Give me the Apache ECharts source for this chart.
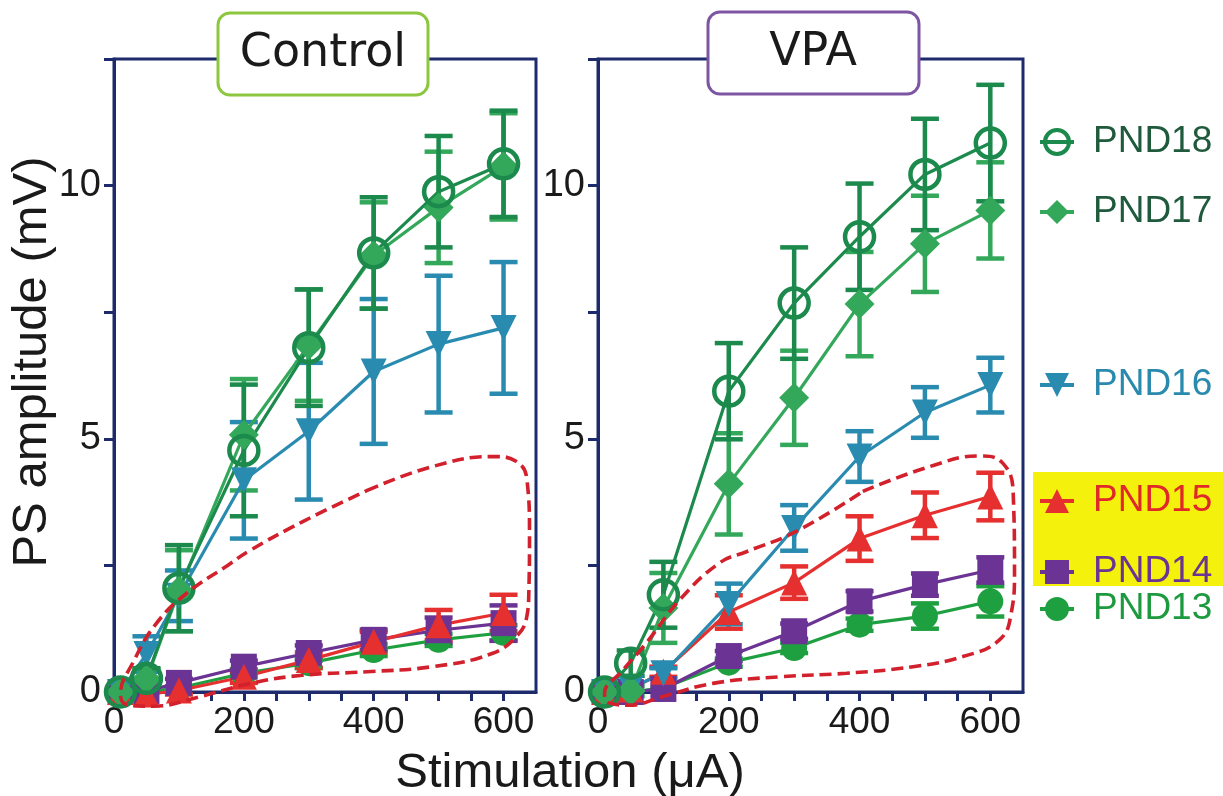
<!DOCTYPE html>
<html>
<head>
<meta charset="utf-8">
<script src="https://cdn.jsdelivr.net/npm/echarts@6/dist/echarts.min.js"></script>
<style>html,body{margin:0;padding:0;background:#fff}#c{width:1223px;height:796px}</style>
</head>
<body>
<div id="c"></div>
<script>
// ---------- data ----------
const stim = [10, 50, 100, 200, 300, 400, 500, 600];
const xTickLabels = [0, 200, 400, 600];
const yTickLabels = [0, 5, 10];
const seriesNames = ['PND13', 'PND14', 'PND15', 'PND16', 'PND17', 'PND18'];

// Control
const ctrlPND18 = [0, 0.27, 2.05, 4.77, 6.80, 8.67, 9.88, 10.43];
const ctrlPND18err = [0, 0.20, 0.85, 1.30, 1.15, 1.10, 1.10, 1.05];
const ctrlPND17 = [0, 0.25, 2.00, 5.08, 6.85, 8.62, 9.57, 10.38];
const ctrlPND17err = [0, 0.20, 0.80, 1.10, 1.10, 1.05, 1.10, 1.05];
const ctrlPND16 = [0, 0.75, 1.90, 4.18, 5.15, 6.33, 6.87, 7.19];
const ctrlPND16err = [0, 0.35, 0.50, 1.15, 1.35, 1.43, 1.35, 1.30];
const ctrlPND15 = [0, -0.05, 0.03, 0.30, 0.63, 0.99, 1.32, 1.56];
const ctrlPND15err = [0, 0.05, 0.08, 0.12, 0.15, 0.20, 0.30, 0.36];
const ctrlPND14 = [0, 0.02, 0.18, 0.50, 0.77, 1.03, 1.22, 1.36];
const ctrlPND14err = [0, 0.03, 0.08, 0.12, 0.15, 0.20, 0.25, 0.35];
const ctrlPND13 = [0, 0.00, 0.08, 0.37, 0.57, 0.83, 1.03, 1.17];
const ctrlPND13err = [0, 0.02, 0.05, 0.08, 0.10, 0.12, 0.12, 0.15];

// VPA
const vpaPND18 = [0, 0.57, 1.92, 5.94, 7.68, 8.99, 10.22, 10.84];
const vpaPND18err = [0, 0.25, 0.65, 0.95, 1.10, 1.05, 1.10, 1.15];
const vpaPND17 = [0, 0.02, 1.66, 4.11, 5.81, 7.66, 8.85, 9.51];
const vpaPND17err = [0, 0.10, 0.69, 1.00, 0.93, 1.03, 0.95, 0.95];
const vpaPND16 = [0, 0.08, 0.37, 1.74, 3.24, 4.65, 5.52, 6.06];
const vpaPND16err = [0, 0.05, 0.10, 0.40, 0.45, 0.50, 0.50, 0.54];
const vpaPND15 = [0, 0.05, 0.40, 1.58, 2.16, 3.03, 3.49, 3.86];
const vpaPND15err = [0, 0.05, 0.10, 0.33, 0.32, 0.44, 0.45, 0.47];
const vpaPND14 = [0, 0.00, 0.06, 0.71, 1.20, 1.79, 2.12, 2.41];
const vpaPND14err = [0, 0.02, 0.05, 0.10, 0.15, 0.20, 0.22, 0.25];
const vpaPND13 = [0, 0.00, 0.08, 0.58, 0.87, 1.33, 1.50, 1.79];
const vpaPND13err = [0, 0.02, 0.05, 0.08, 0.10, 0.12, 0.25, 0.30];

// dashed outline annotations (data coordinates)
const ctrlOutlineX = [390, 490, 585, 620, 636, 640, 639, 636, 620, 580, 490, 390, 290, 210, 130, 60, 20, 10, 30, 65, 112, 175, 210, 290, 390];
const ctrlOutlineY = [3.98, 4.45, 4.65, 4.55, 4.2, 3.1, 2.0, 1.5, 1.1, 0.75, 0.5, 0.4, 0.33, 0.17, -0.1, -0.28, -0.25, -0.05, 0.6, 1.35, 1.95, 2.5, 2.8, 3.36, 3.98];
const vpaOutlineX = [405, 507, 584, 619, 635, 637, 632, 614, 558, 482, 380, 278, 176, 99, 48, 18, 10, 38, 74, 125, 186, 227, 303, 405];
const vpaOutlineY = [3.96, 4.45, 4.66, 4.52, 3.93, 2.35, 1.56, 1.03, 0.7, 0.5, 0.37, 0.3, 0.17, -0.09, -0.26, -0.22, -0.03, 0.43, 0.97, 1.82, 2.55, 2.77, 3.17, 3.96];

// legend label vertical centres (px)
const legendCenters = {PND18: 137, PND17: 207, PND16: 380, PND15: 496, PND14: 567, PND13: 604};

// ---------- styles ----------
const NAVY = '#1d2a6b';
const style = {
  PND18: {color: '#1b8a4c', text: '#1f5a3c', symbol: 'circle', size: 29, empty: true, rotate: 0},
  PND17: {color: '#34a85a', text: '#1f5a3c', symbol: 'diamond', size: 30, empty: false, rotate: 0},
  PND16: {color: '#2a8bb0', text: '#2a8aae', symbol: 'triangle', size: 26, empty: false, rotate: 180},
  PND15: {color: '#e5302f', text: '#e02828', symbol: 'triangle', size: 26, empty: false, rotate: 0},
  PND14: {color: '#6b3393', text: '#6b3393', symbol: 'rect', size: 26, empty: false, rotate: 0},
  PND13: {color: '#1fa040', text: '#1e9a3e', symbol: 'circle', size: 26, empty: false, rotate: 0}
};

const panels = [
  {vals: {PND13: ctrlPND13, PND14: ctrlPND14, PND15: ctrlPND15, PND16: ctrlPND16, PND17: ctrlPND17, PND18: ctrlPND18},
   errs: {PND13: ctrlPND13err, PND14: ctrlPND14err, PND15: ctrlPND15err, PND16: ctrlPND16err, PND17: ctrlPND17err, PND18: ctrlPND18err},
   ox: ctrlOutlineX, oy: ctrlOutlineY},
  {vals: {PND13: vpaPND13, PND14: vpaPND14, PND15: vpaPND15, PND16: vpaPND16, PND17: vpaPND17, PND18: vpaPND18},
   errs: {PND13: vpaPND13err, PND14: vpaPND14err, PND15: vpaPND15err, PND16: vpaPND16err, PND17: vpaPND17err, PND18: vpaPND18err},
   ox: vpaOutlineX, oy: vpaOutlineY}
];

const FONT = '"Liberation Sans", Arial, sans-serif';

function xAxisFor(i) {
  return {
    type: 'value', gridIndex: i, min: 0, max: 650, interval: 50,
    axisLine: {show: true, lineStyle: {color: NAVY, width: 3}},
    axisTick: {show: true, length: 9, lineStyle: {color: NAVY, width: 3}},
    splitLine: {show: false},
    axisLabel: {
      margin: 12, fontSize: 37, color: '#1a1a1a', fontFamily: FONT,
      showMaxLabel: false,
      formatter: v => xTickLabels.indexOf(v) >= 0 ? String(v) : ''
    }
  };
}
function yAxisFor(i) {
  return {
    type: 'value', gridIndex: i, min: 0, max: 12.5, interval: 2.5,
    axisLine: {show: true, lineStyle: {color: NAVY, width: 3}},
    axisTick: {show: true, length: 10, lineStyle: {color: NAVY, width: 3}},
    splitLine: {show: false},
    axisLabel: {
      margin: 13, fontSize: 38, color: '#1a1a1a', fontFamily: FONT,
      formatter: v => yTickLabels.indexOf(v) >= 0 ? String(v) : ''
    }
  };
}

const series = [];
panels.forEach((p, gi) => {
  // error bars first (below markers)
  seriesNames.forEach(name => {
    const st = style[name];
    const data = stim.map((x, k) => [x, p.vals[name][k] - p.errs[name][k], p.vals[name][k] + p.errs[name][k], p.errs[name][k]]);
    series.push({
      type: 'custom', name: name + '-err-' + gi, xAxisIndex: gi, yAxisIndex: gi, z: 1, silent: true, clip: false,
      encode: {x: 0, y: [1, 2]},
      data: data,
      renderItem: function (params, api) {
        const e = api.value(3);
        if (!(e > 0.06)) return null;
        const x = api.value(0);
        const top = api.coord([x, api.value(2)]);
        const bot = api.coord([x, api.value(1)]);
        const w = 14;
        const s = {stroke: st.color, lineWidth: 4.5};
        return {type: 'group', children: [
          {type: 'line', shape: {x1: top[0], y1: top[1], x2: bot[0], y2: bot[1]}, style: s},
          {type: 'line', shape: {x1: top[0] - w, y1: top[1], x2: top[0] + w, y2: top[1]}, style: s},
          {type: 'line', shape: {x1: bot[0] - w, y1: bot[1], x2: bot[0] + w, y2: bot[1]}, style: s}
        ]};
      }
    });
  });
  // lines with markers
  seriesNames.forEach(name => {
    const st = style[name];
    series.push({
      type: 'line', name: name, xAxisIndex: gi, yAxisIndex: gi, z: 3, clip: false,
      data: stim.map((x, k) => [x, p.vals[name][k]]),
      symbol: st.symbol, symbolSize: st.size, symbolRotate: st.rotate,
      showAllSymbol: true,
      lineStyle: {color: st.color, width: 3.2},
      itemStyle: st.empty
        ? {color: 'rgba(255,255,255,0)', borderColor: st.color, borderWidth: 4.5}
        : {color: st.color, borderWidth: 0},
      emphasis: {disabled: true},
      animation: false
    });
  });
  // dashed outline annotation
  series.push({
    type: 'line', name: 'outline-' + gi, xAxisIndex: gi, yAxisIndex: gi, z: 5, clip: false, silent: true,
    data: p.ox.map((x, k) => [x, p.oy[k]]),
    smooth: 0.45, symbol: 'none',
    lineStyle: {color: '#d2202c', width: 3.6, type: [12, 6]},
    animation: false
  });
});

const legends = seriesNames.slice().reverse().map(name => ({
  data: [{
    name: name,
    textStyle: {color: style[name].text},
    itemStyle: style[name].empty ? {borderWidth: 4} : undefined,
    lineStyle: {width: 4}
  }],
  left: 1033, top: legendCenters[name] - 21,
  orient: 'horizontal', selectedMode: false,
  itemWidth: 34, itemHeight: 30,
  textStyle: {fontSize: 37, fontFamily: FONT, lineHeight: 42, padding: [0, 0, 0, 14]}
}));

const option = {
  backgroundColor: '#ffffff',
  animation: false,
  grid: [
    {left: 114, top: 59, width: 422, height: 633, show: true, borderColor: NAVY, borderWidth: 3, backgroundColor: 'transparent'},
    {left: 598, top: 59, width: 425, height: 633, show: true, borderColor: NAVY, borderWidth: 3, backgroundColor: 'transparent'}
  ],
  xAxis: [xAxisFor(0), xAxisFor(1)],
  yAxis: [yAxisFor(0), yAxisFor(1)],
  legend: legends,
  graphic: [
    {type: 'rect', z: 0, shape: {x: 1033, y: 472, width: 190, height: 114}, style: {fill: '#f4f20c'}},
    {type: 'rect', z: 10, shape: {x: 218, y: 13, width: 210, height: 82, r: 12}, style: {fill: '#fff', stroke: '#8dc63f', lineWidth: 3}},
    {type: 'text', z: 11, x: 323, y: 54, style: {text: 'Control', font: '46px "DejaVu Sans", sans-serif', fill: '#1a1a1a', align: 'center', verticalAlign: 'middle'}},
    {type: 'rect', z: 10, shape: {x: 708, y: 12, width: 211, height: 82, r: 12}, style: {fill: '#fff', stroke: '#7d55a3', lineWidth: 3}},
    {type: 'text', z: 11, x: 813, y: 53, style: {text: 'VPA', font: '46px "DejaVu Sans", sans-serif', fill: '#1a1a1a', align: 'center', verticalAlign: 'middle'}},
    {type: 'text', z: 11, x: 32, y: 362, rotation: Math.PI / 2, style: {text: 'PS amplitude (mV)', font: '49px ' + FONT, fill: '#1a1a1a', align: 'center', verticalAlign: 'middle'}},
    {type: 'text', z: 11, x: 570, y: 773, style: {text: 'Stimulation (μA)', font: '49px ' + FONT, fill: '#1a1a1a', align: 'center', verticalAlign: 'middle'}}
  ],
  series: series
};

const chart = echarts.init(document.getElementById('c'), null, {renderer: 'canvas'});
chart.setOption(option);
</script>
</body>
</html>
